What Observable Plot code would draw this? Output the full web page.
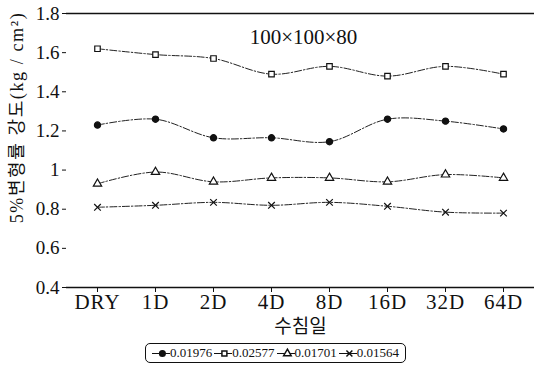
<!DOCTYPE html>
<html><head><meta charset="utf-8">
<script src="https://cdn.jsdelivr.net/npm/d3@7"></script>
<script src="https://cdn.jsdelivr.net/npm/@observablehq/plot@0.6"></script>
<style>
body{margin:0;background:#fff;}
#wrap{width:534px;height:365px;position:relative;overflow:hidden;font-family:"Liberation Serif",serif;}
#legend{position:absolute;left:145px;top:343px;width:259px;height:18px;border:1.3px solid #111;border-radius:5px;display:flex;align-items:center;justify-content:center;gap:2px;font-size:13px;color:#111;}
.li{display:flex;align-items:center;}
</style></head>
<body><div id="wrap"><div id="chart"></div><div id="legend"></div></div>
<script>
const days = ["DRY","1D","2D","4D","8D","16D","32D","64D"];
const seriesNames = ["0.01976","0.02577","0.01701","0.01564"];
const s01976 = [1.23,1.26,1.165,1.165,1.145,1.26,1.25,1.21];
const s02577 = [1.62,1.59,1.57,1.49,1.53,1.48,1.53,1.49];
const s01701 = [0.93,0.99,0.94,0.96,0.96,0.94,0.977,0.96];
const s01564 = [0.81,0.82,0.835,0.82,0.835,0.815,0.785,0.78];
const yTicks = [0.4,0.6,0.8,1,1.2,1.4,1.6,1.8];
const symbols = {"0.01976":"circle","0.02577":"square","0.01701":"triangle","0.01564":"times"};
const fills = {"0.01976":"#111","0.02577":"white","0.01701":"white","0.01564":"none"};

const valuesBySeries = [s01976,s02577,s01701,s01564];
const data = [];
seriesNames.forEach((n,i)=>days.forEach((d,j)=>data.push({series:n,day:d,v:valuesBySeries[i][j]})));

const chart = Plot.plot({
  width:534, height:340,
  marginLeft:66, marginRight:0, marginTop:13, marginBottom:53,
  style:{fontFamily:"'Liberation Serif',serif", color:"#111", background:"white"},
  x:{type:"point", domain:days, padding:0.5},
  y:{domain:[0.4,1.8]},
  marks:[
    Plot.ruleY([1.8],{stroke:"#111",strokeWidth:1.5}),
    Plot.ruleY([0.4],{stroke:"#111",strokeWidth:1.3}),
    Plot.ruleX([0],{frameAnchor:"left", stroke:"#111", strokeWidth:1.4}),
    Plot.axisY({ticks:yTicks, tickFormat:d=>String(d), tickSize:4, tickPadding:3, fontSize:19, label:null}),
    Plot.axisX({tickSize:5, tickPadding:2, fontSize:21, label:"수침일", labelAnchor:"center", labelArrow:"none", labelOffset:45}),
    Plot.line(data,{x:"day",y:"v",z:"series",stroke:"#222",strokeWidth:1,strokeDasharray:"7,2,1.5,2",curve:"catmull-rom"}),
    Plot.dot(data,{x:"day",y:"v",symbol:d=>symbols[d.series],fill:d=>fills[d.series],stroke:"#111",strokeWidth:1.2,r:3.1}),
    Plot.text(["100×100×80"],{frameAnchor:"top",dy:16,dx:3,fontSize:21,fill:"#111"}),
    Plot.text(["5%변형률 강도(kg / cm²)"],{frameAnchor:"left",textAnchor:"middle",dx:-49,dy:-33,rotate:-90,fontSize:18,fill:"#111",fontFamily:"'Liberation Serif','Noto Sans CJK KR',serif"})
  ],
  symbol:{domain:["circle","square","triangle","times"],range:["circle","square","triangle","times"]}
});
d3.select(chart).selectAll("[aria-label='x-axis label'] text, [aria-label='x-axis label']").style("font-size","19px").style("font-family","'Noto Sans CJK KR',sans-serif");
d3.select(chart).selectAll("[aria-label='x-axis tick label'] text").style("letter-spacing","1px");
d3.select(chart).selectAll("[aria-label='text'] text").filter(function(){return this.textContent.startsWith("5%");}).style("letter-spacing","1.6px");
document.getElementById("chart").appendChild(chart);

const leg = document.getElementById("legend");
seriesNames.forEach(n=>{
  const item = document.createElement("span"); item.className="li";
  const sw = Plot.plot({width:18,height:14,margin:0,axis:null,x:{domain:[0,1]},y:{domain:[0,1]},
    marks:[Plot.ruleY([0.5],{stroke:"#111"}),
      Plot.dot([{x:0.55,y:0.5}],{x:"x",y:"y",symbol:()=>symbols[n],fill:fills[n],stroke:"#111",r:2.8})],
    symbol:{domain:["circle","square","triangle","times"],range:["circle","square","triangle","times"]}});
  item.appendChild(sw);
  const t=document.createElement("span"); t.textContent=n; item.appendChild(t);
  leg.appendChild(item);
});
</script></body></html>
